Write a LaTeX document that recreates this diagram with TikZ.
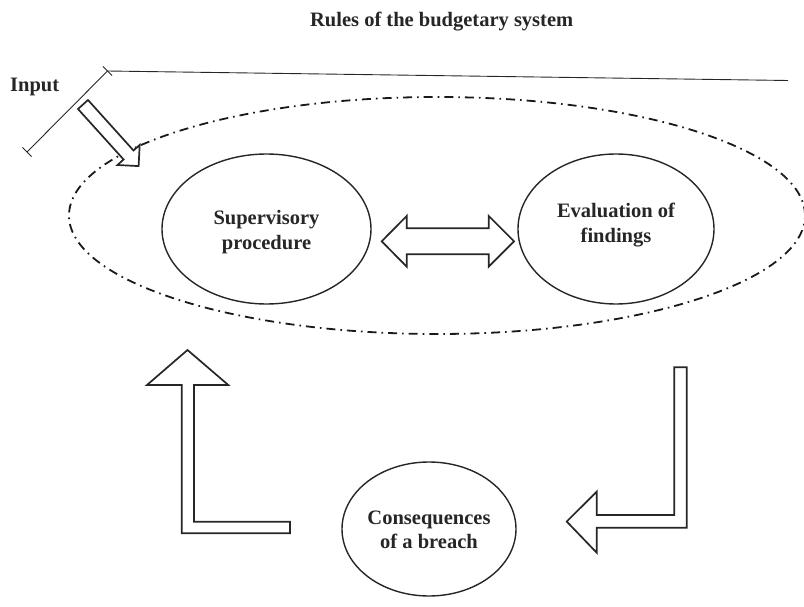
\documentclass[tikz,border=0pt]{standalone}
\usepackage{fontspec}
\setmainfont{Liberation Serif}
\usetikzlibrary{shapes.geometric}
\begin{document}
\begin{tikzpicture}[x=1pt,y=-1pt,
  txt/.style={font=\fontsize{20.5}{24.5}\selectfont\bfseries, align=center, inner sep=0pt, text=black!85},
  oval/.style={draw=black!85, line width=1.4pt, ellipse, inner sep=0pt},
  sysoval/.style={draw=black!90, line width=1.8pt, ellipse, inner sep=0pt,
     dash pattern=on 9pt off 5pt on 1.6pt off 5pt},
  blockarrow/.style={draw=black!85, line width=1.7pt, fill=white, line join=miter},
  thinline/.style={draw=black!85, line width=0.9pt}]
\useasboundingbox (0,0) rectangle (804,607);

% system boundary
\node[sysoval, minimum width=736pt, minimum height=237pt] (sys) at (437,215.5) {};

% title and input
\node[txt, anchor=base] (title) at (441.7,26.5) {Rules of the budgetary system};
\node[txt, anchor=base west] (input) at (10,91.5) {Input};

% input line with end bars
\coordinate (ltop) at (107.5,71);
\coordinate (lbot) at (27,152);
\coordinate (rend) at (788,80.5);
\coordinate (tA) at (102.9,66.4);
\coordinate (tB) at (112.1,75.6);
\coordinate (bA) at (22.4,147.4);
\coordinate (bB) at (31.6,156.6);
\draw[thinline] (lbot) -- (ltop) -- (rend);
\draw[thinline] (tA) -- (tB);
\draw[thinline] (bA) -- (bB);

% input arrow
\draw[blockarrow] (88.0,100.0) -- (133.5,150.5) -- (139.7,144.9) -- (138.6,166.1)
  -- (117.5,165.0) -- (123.6,159.5) -- (78.0,109.0) -- cycle;

% ellipses
\node[oval, minimum width=209pt, minimum height=150pt] (sup) at (266.5,229) {};
\node[txt] (suptext) at (266.5,232) {Supervisory\\procedure};
\node[oval, minimum width=196pt, minimum height=150pt] (eva) at (616,229) {};
\node[txt] (evatext) at (616,225) {Evaluation of\\findings};
\node[oval, minimum width=174pt, minimum height=134pt] (con) at (429,529) {};
\node[txt] (context) at (429,530) {Consequences\\of a breach};

% double arrow between supervisory and evaluation
\draw[blockarrow] (381.7,241.3) -- (406.7,216) -- (406.7,228.3) -- (488.7,228.3)
  -- (488.7,216) -- (514,241.3) -- (488.7,266.7) -- (488.7,254.3)
  -- (406.7,254.3) -- (406.7,266.7) -- cycle;

% L-arrow right (down then left)
\draw[blockarrow] (674.3,367.3) -- (686.7,367.3) -- (686.7,527.7) -- (596.7,527.7)
  -- (596.7,552.7) -- (566.7,521.5) -- (596.7,491.7) -- (596.7,515) -- (674.3,515) -- cycle;

% L-arrow left (left then up)
\draw[blockarrow] (187.5,350) -- (228.3,385) -- (194,385) -- (194,521.7) -- (290,521.7)
  -- (290,533.3) -- (181.7,533.3) -- (181.7,385) -- (147,385) -- cycle;
\end{tikzpicture}
\end{document}
